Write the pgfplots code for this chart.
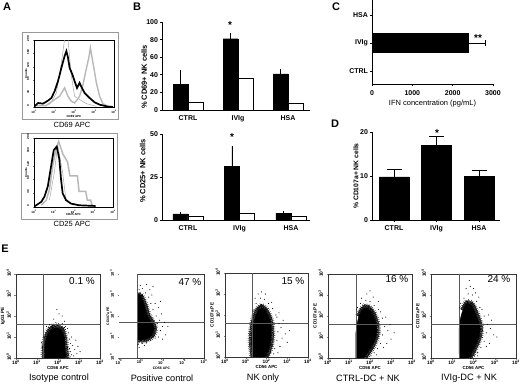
\documentclass[border=0pt]{standalone}
\usepackage{pgfplots}
\pgfplotsset{compat=1.18}
\usepackage{fontspec}
\setmainfont{Liberation Sans}
\newcommand\fs[1]{\fontsize{#1}{#1}\selectfont}
\definecolor{frameg}{gray}{0.6}
\definecolor{lg}{gray}{0.72}
\definecolor{gate}{gray}{0.35}
\pgfplotsset{
  barax/.style={scale only axis, axis lines=left, axis line style={-,line width=0.8pt},
    tick align=outside, major tick length=2pt, tick style={line width=0.8pt,black},
    tick label style={font=\fs{7}\bfseries}, clip=false,
    yticklabel style={xshift=1.5pt},
    /pgf/number format/assume math mode=true,
    ytick pos=left, xtick pos=bottom},
  blk/.style={fill=black,draw=black},
  wht/.style={fill=white,draw=black,line width=0.9pt},
  histo/.style={scale only axis, width=#1, xmin=0,xmax=4,ymin=0,ymax=200,
    axis line style={line width=0.7pt,black}, clip=true,
    xtick={0,1,2,3,4}, xticklabels={10\textsuperscript{0},10\textsuperscript{1},10\textsuperscript{2},10\textsuperscript{3},10\textsuperscript{4}},
    ytick={0,40,80,120,160,200},
    tick align=outside, major tick length=1.2pt, ytick pos=left, xtick pos=bottom,
    tick label style={font=\fs{3}\bfseries},
    yticklabel style={rotate=90,anchor=south},
    /pgf/number format/assume math mode=true,
    xticklabel style={yshift=1.5pt}, yticklabel style={xshift=1.5pt},
    xlabel style={font=\fs{3}\bfseries,at={(axis description cs:0.5,0)},anchor=center,yshift=-9.5pt},
    ylabel style={font=\fs{3}\bfseries,at={(axis description cs:-0.1,0.5)},anchor=center},
    ylabel={Counts}},
  flow/.style={scale only axis, xmin=0,xmax=4,ymin=0,ymax=4,
    axis line style={line width=0.7pt,gate!60!black}, clip=true,
    xtick={0,1,2,3,4}, xticklabels={10\textsuperscript{0},10\textsuperscript{1},10\textsuperscript{2},10\textsuperscript{3},10\textsuperscript{4}},
    ytick={0,1,2,3,4}, yticklabels={10\textsuperscript{0},10\textsuperscript{1},10\textsuperscript{2},10\textsuperscript{3},10\textsuperscript{4}},
    tick align=outside, major tick length=1.5pt, ytick pos=left, xtick pos=bottom,
    tick label style={font=\fs{4.8}\bfseries},
    yticklabel style={rotate=90,anchor=south,xshift=1pt},
    xticklabel style={yshift=3pt},
    xlabel={CD56 APC}, ylabel={CD107a PE},
    xlabel style={font=\fs{4.4}\bfseries,at={(axis description cs:0.5,0)},anchor=center,yshift=-10pt},
    ylabel style={font=\fs{4.6}\bfseries,at={(axis description cs:-0.155,0.5)},anchor=center}},
  blob/.style={fill=black,draw=black,line width=0.4pt},
  halo/.style={draw=black,line width=2.8pt,dash pattern=on 0.4pt off 0.45pt,fill=none},
  halob/.style={draw=black,line width=5.5pt,dash pattern=on 0.3pt off 1.5pt,fill=none},
  spk/.style={only marks,mark=*,mark size=0.25pt,black},
  gl/.style={gate,line width=0.7pt}
}
\begin{document}
\begin{tikzpicture}[x=1pt,y=1pt]
\useasboundingbox (0,0) rectangle (520,384);
% panel letters
\foreach \px/\py/\t in {7/7/A,137/7/B,336/7/C,335/124/D,5/249/E}{
  \node[font=\fs{11}\bfseries,inner sep=0] at (\px,384-\py) {\t};}

% ------- A frames
\draw[frameg,line width=1pt] (22,384-33) rectangle (118,384-119);
\draw[frameg,line width=1pt] (21,384-133) rectangle (117,384-219);
\node[font=\fs{7.5},inner sep=0] at (72,384-125) {CD69 APC};
\node[font=\fs{7.5},inner sep=0] at (72,384-224) {CD25 APC};

\begin{axis}[histo=80pt, height=67pt, at={(34pt,277pt)}, anchor=south west, xlabel={CD69 APC}]
\addplot[gray!70,line width=0.5pt] coordinates {(0.78,7)(1.12,42)(1.37,132)(1.53,202)(1.7,202)(1.87,92)(2.03,32)(2.28,22)(2.62,10)(3.12,2)};
\addplot[lg,line width=1.4pt] coordinates {(0.12,4)(0.6,4)(1.03,22)(1.28,32)(1.53,57)(1.7,32)(1.87,17)(2.03,12)(2.28,32)(2.45,67)(2.6,110)(2.75,150)(2.82,177)(2.95,132)(3.12,72)(3.28,32)(3.45,10)(3.7,2)};
\addplot[black,line width=1.7pt] coordinates {(0.03,2)(0.2,12)(0.45,10)(0.7,19)(0.87,27)(1.03,47)(1.2,77)(1.37,117)(1.53,152)(1.62,167)(1.7,147)(1.78,117)(1.92,97)(2.03,77)(2.15,57)(2.28,72)(2.37,60)(2.53,42)(2.78,27)(3.03,14)(3.28,7)(3.62,2)(3.95,0)};
\end{axis}

\begin{axis}[histo=79pt, height=69pt, at={(34pt,177pt)}, anchor=south west, xlabel={CD25 APC}, xlabel style={yshift=2pt}]
\addplot[gray!70,line width=0.5pt] coordinates {(0.78,20)(1.03,100)(1.2,180)(1.45,100)(1.62,20)(2.0,5)};
\addplot[lg,line width=1.5pt] coordinates {(0.37,5)(0.62,20)(0.78,50)(0.95,120)(1.12,170)(1.25,190)(1.45,155)(1.7,130)(1.82,90)(2.2,90)(2.28,45)(2.62,45)(2.7,20)(2.87,20)(2.95,2)};
\addplot[black,line width=1.7pt] coordinates {(0.03,2)(0.37,15)(0.53,30)(0.7,60)(0.87,120)(1.0,165)(1.15,175)(1.28,140)(1.37,80)(1.45,40)(1.62,20)(1.87,10)(2.28,5)(3.12,3)};
\end{axis}

% ------- B top
\begin{axis}[barax, ybar=0pt, bar width=15pt, width=148pt, height=88pt, at={(162pt,274pt)}, anchor=south west,
  xmin=-0.52,xmax=2.44,ymin=0,ymax=100,
  xtick={0,1,2}, xticklabels={CTRL,IVIg,HSA}, major x tick style={draw=none},
  ytick={0,20,40,60,80,100},
  ylabel={\% CD69+ NK cells}, ylabel style={font=\fs{7.5}\bfseries,at={(axis description cs:-0.12,0.5)},anchor=center,xshift=-11pt}]
\addplot[blk,
  error bars/.cd, y dir=plus, y explicit, error mark=none, error bar style={black,line width=0.8pt}]
  coordinates {(0,29) +- (0,16) (1,81) +- (0,6) (2,41) +- (0,6)};
\addplot[wht] coordinates {(0,9)(1,36)(2,8)};
\end{axis}
\node[font=\fs{10}\bfseries,inner sep=0] at (230,384-25) {*};

% ------- B bottom
\begin{axis}[barax, ybar=0pt, bar width=15pt, width=148pt, height=86pt, at={(162pt,164pt)}, anchor=south west,
  xmin=-0.505,xmax=2.37,ymin=0,ymax=50,
  xtick={0,1,2}, xticklabels={CTRL,IVIg,HSA}, major x tick style={draw=none},
  ytick={0,25,50},
  ylabel={\% CD25+ NK cells}, ylabel style={font=\fs{7.5}\bfseries,at={(axis description cs:-0.13,0.57)},anchor=center}]
\addplot[blk,
  error bars/.cd, y dir=plus, y explicit, error mark=none, error bar style={black,line width=0.8pt}]
  coordinates {(0,3.5) +- (0,1) (1,31) +- (0,12) (2,4) +- (0,1)};
\addplot[wht] coordinates {(0,2.2)(1,4)(2,2)};
\end{axis}
\node[font=\fs{10}\bfseries,inner sep=0] at (232,384-137) {*};

% ------- C
\begin{axis}[barax, width=121pt, height=84pt, at={(372pt,300pt)}, anchor=south west,
  xmin=0,xmax=3000,ymin=-0.464,ymax=2.536,
  xtick={0,1000,2000,3000}, ytick={0,1,2}, yticklabels={CTRL,IVIg,HSA},
  scaled x ticks=false, xticklabel style={/pgf/number format/1000 sep={},yshift=-1.5pt},
  xlabel={IFN concentration (pg/mL)}, xlabel style={font=\fs{7.5},yshift=2.5pt}]
\addplot[xbar, bar width=19pt, bar shift=0pt, blk,
  error bars/.cd, x dir=plus, x explicit, error mark options={rotate=90,mark size=3pt,line width=0.8pt}, error bar style={black,line width=0.8pt}]
  coordinates {(2390,1) +- (430,0)};
\end{axis}
\node[font=\fs{10}\bfseries,inner sep=0] at (478,384-38) {**};

% ------- D
\begin{axis}[barax, width=128pt, height=88pt, at={(372pt,164pt)}, anchor=south west,
  xmin=-0.518,xmax=2.494,ymin=0,ymax=20,
  xtick={0,1,2}, xticklabels={CTRL,IVIg,HSA},
  ytick={0,10,20},
  ylabel={\% CD107a+ NK cells}, ylabel style={font=\fs{6.8}\bfseries,at={(axis description cs:-0.125,0.5)},anchor=center}]
\addplot[ybar, bar width=30pt, bar shift=0pt, blk,
  error bars/.cd, y dir=plus, y explicit, error mark options={rotate=90,mark size=7.5pt,line width=0.8pt}, error bar style={black,line width=0.8pt}]
  coordinates {(0,9.8) +- (0,1.7) (1,17) +- (0,2) (2,9.9) +- (0,1.3)};
\end{axis}
\node[font=\fs{10}\bfseries,inner sep=0] at (437,384-133) {*};

% ------- E1
\begin{axis}[flow, width=84pt, height=84pt, at={(16pt,26pt)}, anchor=south west, ylabel={IgG1 PE}]
\addplot[spk] coordinates {(2.6,.3)(2.7,.6)(2.55,.9)(2.65,.15)(2.8,.4)(2.9,.2)(2.5,1.2)(2.35,1.5)(2.2,1.65)(1.9,1.7)(1.6,1.6)(1.45,1.5)(2.6,.7)(2.75,.1)(3.05,.3)(2.45,1.4)(2.05,2.1)(1.8,1.85)(2.3,1.75)(1.3,1.0)(1.25,.5)(1.28,.2)(1.22,.75)(2.95,.55)(2.55,.45)(2.65,1.0)(2.85,.85)(1.95,2.3)(2.2,2.0)(2.58,.05)};
\addplot[halob,smooth] coordinates {(1.32,0)(1.3,.3)(1.35,.8)(1.5,1.25)(1.75,1.5)(2.0,1.52)(2.22,1.38)(2.35,1.0)(2.4,.5)(2.45,.15)(2.4,0)};
\addplot[halo,smooth] coordinates {(1.32,0)(1.3,.3)(1.35,.8)(1.5,1.25)(1.75,1.5)(2.0,1.52)(2.22,1.38)(2.35,1.0)(2.4,.5)(2.45,.15)(2.4,0)};
\addplot[blob,smooth] coordinates {(1.36,0)(1.36,.3)(1.4,.8)(1.55,1.2)(1.75,1.42)(2.0,1.44)(2.18,1.3)(2.3,1.0)(2.34,.5)(2.38,.15)(2.34,0)} \closedcycle;
\addplot[gl] coordinates {(1.29,0)(1.29,4)};
\addplot[gl] coordinates {(0,1.62)(4,1.62)};
\end{axis}
% E2
\begin{axis}[flow, width=85pt, height=84pt, at={(119pt,26pt)}, anchor=south west,
  tick label style={font=\fs{4}\bfseries},
  ylabel style={font=\fs{3.5}\bfseries,at={(axis description cs:-0.13,0.5)}},
  xlabel style={font=\fs{3.5}\bfseries}]
\addplot[spk] coordinates {(1.85,1.0)(1.95,1.3)(2.05,1.5)(1.9,1.8)(2.2,1.1)(1.75,2.0)(1.6,2.3)(1.5,2.6)(1.4,2.9)(1.25,3.1)(1.1,3.3)(.95,3.25)(1.3,3.5)(1.55,3.0)(1.7,2.6)(1.85,2.4)(2.0,2.1)(2.15,1.7)(.9,.65)(1.1,.7)(1.3,.72)(1.5,.85)(1.7,.95)(1.6,3.4)(1.0,3.45)(2.3,1.5)(1.95,2.7)(1.45,3.25)(1.2,.6)(.95,.5)(1.8,1.65)(2.05,.9)};
\addplot[halob,smooth] coordinates {(.87,.85)(1.0,.8)(1.3,.85)(1.6,1.05)(1.72,1.4)(1.62,1.7)(1.42,2.0)(1.27,2.5)(1.08,2.95)(.95,3.05)(.87,3.0)};
\addplot[halo,smooth] coordinates {(.87,.85)(1.0,.8)(1.3,.85)(1.6,1.05)(1.72,1.4)(1.62,1.7)(1.42,2.0)(1.27,2.5)(1.08,2.95)(.95,3.05)(.87,3.0)};
\addplot[blob,smooth] coordinates {(.87,.9)(1.0,.86)(1.27,.9)(1.55,1.1)(1.66,1.4)(1.56,1.66)(1.37,1.96)(1.22,2.45)(1.05,2.88)(.95,2.98)(.87,2.93)} \closedcycle;
\addplot[fill=white,draw=none] coordinates {(0,0)(.85,0)(.85,4)(0,4)} \closedcycle;
\addplot[gl] coordinates {(.85,0)(.85,4)};
\addplot[gl] coordinates {(0,1.71)(4,1.71)};
\end{axis}
% E3
\begin{axis}[flow, width=83pt, height=84pt, at={(225pt,27pt)}, anchor=south west]
\addplot[spk] coordinates {(2.4,.4)(2.5,.8)(2.55,1.2)(2.6,1.6)(2.45,2.0)(2.3,2.3)(2.1,2.55)(1.9,2.75)(1.7,2.8)(1.5,2.55)(1.35,2.2)(2.75,.9)(2.7,1.4)(2.9,1.1)(3.0,.7)(2.65,.5)(2.2,.2)(2.35,.15)(2.5,1.9)(2.25,2.6)(1.95,3.0)(1.75,3.1)(1.45,2.8)(2.8,1.75)(2.6,2.1)(3.1,1.25)(2.55,.2)(1.6,3.0)};
\addplot[halob,smooth] coordinates {(1.3,0)(1.22,.8)(1.3,1.6)(1.5,2.2)(1.75,2.45)(2.0,2.25)(2.22,1.8)(2.3,1.2)(2.25,.6)(2.1,.15)(2.0,0)};
\addplot[halo,smooth] coordinates {(1.3,0)(1.22,.8)(1.3,1.6)(1.5,2.2)(1.75,2.45)(2.0,2.25)(2.22,1.8)(2.3,1.2)(2.25,.6)(2.1,.15)(2.0,0)};
\addplot[blob,smooth] coordinates {(1.34,0)(1.28,.8)(1.36,1.56)(1.54,2.12)(1.75,2.36)(1.97,2.18)(2.17,1.75)(2.24,1.2)(2.19,.63)(2.05,.2)(1.95,0)} \closedcycle;
\addplot[gl] coordinates {(1.3,0)(1.3,4)};
\addplot[gl] coordinates {(0,1.62)(4,1.62)};
\end{axis}
% E4
\begin{axis}[flow, width=84pt, height=84pt, at={(328pt,26pt)}, anchor=south west]
\addplot[spk] coordinates {(2.5,.7)(2.6,1.1)(2.7,1.5)(2.6,1.9)(2.4,2.3)(2.2,2.5)(2.0,2.7)(1.8,2.75)(1.55,2.6)(1.4,2.4)(2.85,1.3)(3.0,.9)(2.8,.7)(2.95,1.6)(2.35,.45)(2.2,.25)(2.05,.1)(2.5,2.2)(2.15,2.9)(1.85,3.05)(1.6,2.85)(3.15,1.2)(2.75,1.95)(2.65,.5)(2.4,2.7)(2.0,3.2)(2.3,.15)(1.35,2.3)};
\addplot[halob,smooth] coordinates {(1.42,2.0)(1.65,2.42)(1.9,2.47)(2.2,2.12)(2.37,1.6)(2.37,1.1)(2.18,.6)(1.93,.2)(1.78,0)};
\addplot[halo,smooth] coordinates {(1.42,2.0)(1.65,2.42)(1.9,2.47)(2.2,2.12)(2.37,1.6)(2.37,1.1)(2.18,.6)(1.93,.2)(1.78,0)};
\addplot[blob,smooth] coordinates {(1.33,0)(1.33,1.2)(1.46,1.95)(1.67,2.34)(1.88,2.38)(2.15,2.07)(2.31,1.6)(2.31,1.1)(2.13,.63)(1.88,.25)(1.72,0)} \closedcycle;
\addplot[gl] coordinates {(1.33,0)(1.33,4)};
\addplot[gl] coordinates {(0,1.62)(4,1.62)};
\end{axis}
% E5
\begin{axis}[flow, width=85pt, height=84pt, at={(431pt,26pt)}, anchor=south west]
\addplot[spk] coordinates {(2.5,.8)(2.6,1.2)(2.65,1.6)(2.5,2.0)(2.3,2.4)(2.15,2.7)(1.95,3.0)(1.75,3.05)(1.55,2.85)(1.4,2.6)(2.8,1.4)(2.95,1.1)(2.75,.7)(2.85,1.8)(2.35,.5)(2.2,.25)(2.05,.1)(2.4,2.3)(2.1,3.1)(1.85,3.4)(1.65,3.3)(3.1,1.0)(2.7,2.05)(2.6,.55)(1.8,3.7)(2.0,3.3)(1.35,2.4)(2.25,2.9)(2.2,.1)};
\addplot[halob,smooth] coordinates {(1.45,2.3)(1.7,2.68)(1.95,2.58)(2.15,2.18)(2.37,1.5)(2.32,1.0)(2.12,.5)(1.93,.1)(1.83,0)};
\addplot[halo,smooth] coordinates {(1.45,2.3)(1.7,2.68)(1.95,2.58)(2.15,2.18)(2.37,1.5)(2.32,1.0)(2.12,.5)(1.93,.1)(1.83,0)};
\addplot[blob,smooth] coordinates {(1.33,0)(1.33,1.5)(1.49,2.25)(1.7,2.6)(1.92,2.5)(2.1,2.12)(2.31,1.5)(2.26,1.0)(2.07,.53)(1.88,.15)(1.77,0)} \closedcycle;
\addplot[gl] coordinates {(1.32,0)(1.32,4)};
\addplot[gl] coordinates {(0,1.62)(4,1.62)};
\end{axis}

\foreach \px/\py/\t in {59/378/Isotype control,162/378/Positive control,263/378/NK only,368/378/CTRL-DC + NK,469/378/IVIg-DC + NK}{
  \node[font=\fs{9.2},inner sep=0] at (\px,384-\py) {\t};}
\foreach \px/\py/\t in {82/281/0.1 \%,190/282/47 \%,293/281/15 \%,397/279/16 \%,499/279/24 \%}{
  \node[font=\fs{10},inner sep=0] at (\px,384-\py) {\t};}
\end{tikzpicture}
\end{document}
